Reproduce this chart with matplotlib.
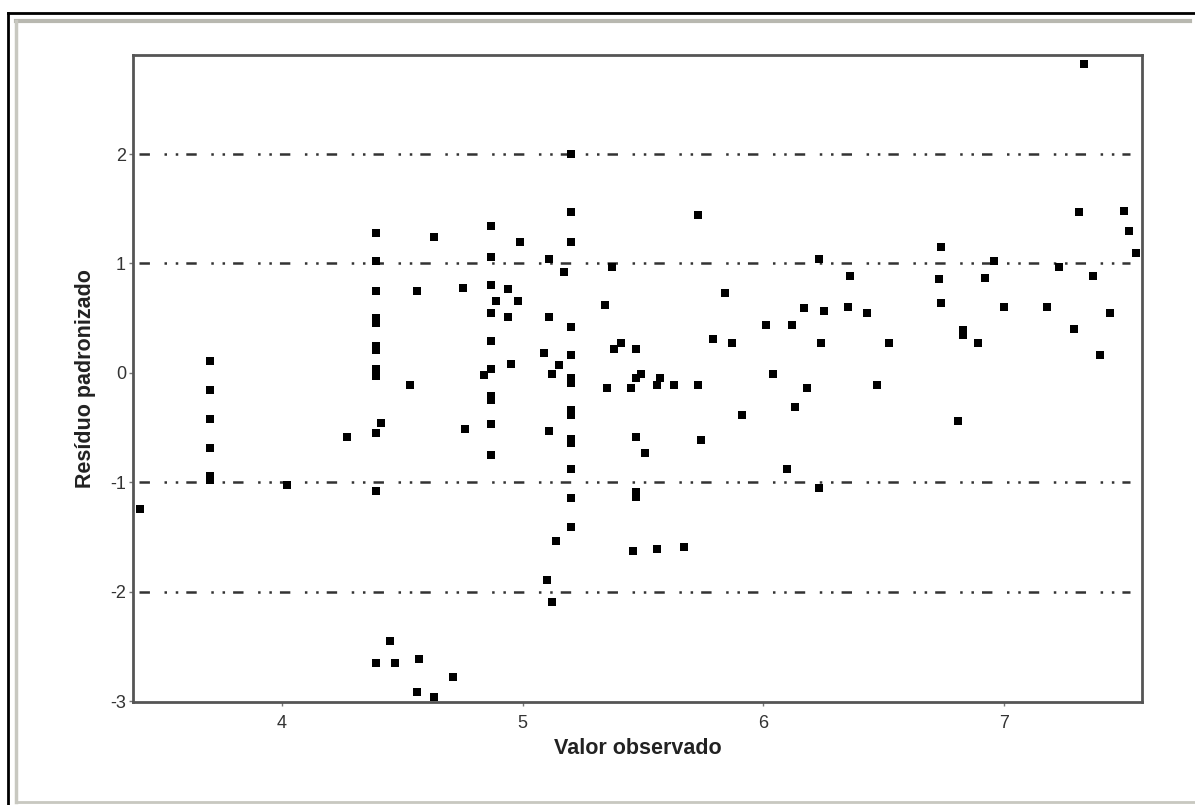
import numpy as np
import matplotlib
matplotlib.use('Agg')
import matplotlib.pyplot as plt
from matplotlib.lines import Line2D

# observed value vs standardized residual
valor_obs = [3.41, 3.70, 3.70, 3.70, 3.70, 3.70, 3.70, 4.02, 4.27,
             4.39, 4.39, 4.39, 4.39, 4.39, 4.39, 4.39, 4.39, 4.39, 4.39, 4.39, 4.41, 4.39,
             4.45, 4.39, 4.47, 4.57, 4.71, 4.56, 4.63, 4.53, 4.56, 4.63, 4.75, 4.76, 4.84,
             4.87, 4.87, 4.87, 4.87, 4.87, 4.87, 4.87, 4.87, 4.87, 4.87,
             4.89, 4.94, 4.94, 4.95, 4.98, 4.99, 5.09, 5.10, 5.11, 5.11, 5.11, 5.12, 5.12,
             5.14, 5.15, 5.17,
             5.20, 5.20, 5.20, 5.20, 5.20, 5.20, 5.20, 5.20, 5.20, 5.20, 5.20, 5.20, 5.20, 5.20,
             5.34, 5.35, 5.37, 5.38, 5.41, 5.45, 5.46, 5.47, 5.47, 5.49, 5.47, 5.47, 5.47,
             5.51, 5.56, 5.57, 5.56, 5.63, 5.67, 5.73, 5.73, 5.74, 5.79, 5.84, 5.87, 5.91,
             6.01, 6.04, 6.10, 6.12, 6.13, 6.17, 6.18, 6.23, 6.23, 6.24, 6.25, 6.35, 6.36,
             6.43, 6.47, 6.52, 6.73, 6.74, 6.74, 6.81, 6.83, 6.83, 6.89, 6.92, 6.96, 7.00,
             7.18, 7.23, 7.29, 7.31, 7.33, 7.37, 7.40, 7.44, 7.50, 7.52, 7.55]
residuo = [-1.24, 0.11, -0.16, -0.42, -0.69, -0.94, -0.98, -1.02, -0.59,
           1.28, 1.02, 0.75, 0.50, 0.46, 0.25, 0.21, 0.04, 0.00, -0.03, -0.55, -0.46, -1.08,
           -2.45, -2.65, -2.65, -2.61, -2.78, -2.92, -2.96, -0.11, 0.75, 1.24, 0.78, -0.51, -0.02,
           1.34, 1.06, 0.80, 0.55, 0.29, 0.04, -0.21, -0.25, -0.47, -0.75,
           0.66, 0.77, 0.51, 0.08, 0.66, 1.20, 0.18, -1.89, 1.04, 0.51, -0.53, -0.01, -2.09,
           -1.54, 0.07, 0.92,
           2.00, 1.47, 1.20, 0.42, 0.16, -0.05, -0.09, -0.34, -0.38, -0.60, -0.64, -0.88, -1.14, -1.41,
           0.62, -0.14, 0.97, 0.22, 0.27, -0.14, -1.63, 0.22, -0.05, -0.01, -0.59, -1.09, -1.13,
           -0.73, -0.11, -0.05, -1.61, -0.11, -1.59, 1.44, -0.11, -0.61, 0.31, 0.73, 0.27, -0.38,
           0.44, -0.01, -0.88, 0.44, -0.31, 0.59, -0.14, 1.04, -1.05, 0.27, 0.57, 0.60, 0.89,
           0.55, -0.11, 0.27, 0.86, 1.15, 0.64, -0.44, 0.39, 0.35, 0.27, 0.87, 1.02, 0.60,
           0.60, 0.97, 0.40, 1.47, 2.82, 0.89, 0.16, 0.55, 1.48, 1.30, 1.10]

ref_lines = [2, 1, -1, -2]
x_ticks = [4, 5, 6, 7]
y_ticks = [-3, -2, -1, 0, 1, 2]

plt.rcParams['font.family'] = ['Liberation Sans', 'DejaVu Sans']
plt.rcParams['lines.scale_dashes'] = False
plt.rcParams['axes.unicode_minus'] = False

fig = plt.figure(figsize=(11.95, 8.05), dpi=100, facecolor='white')
ax = fig.add_axes([133/1195, 1 - 702/805, (1142 - 133)/1195, (702 - 55)/805])

for yv in ref_lines:
    ax.axhline(yv, xmin=0.006, xmax=0.988, color='#333333', linewidth=1.8,
               linestyle=(0, (7.5, 10.5, 1.8, 6.3, 1.8, 5.8)), zorder=1)

ax.plot(valor_obs, residuo, linestyle='none', marker='s', markersize=5.6,
        color='black', markeredgewidth=0, zorder=3)

ax.set_xlim(3.381, 7.573)
ax.set_ylim(-3.007, 2.905)
ax.set_xticks(x_ticks)
ax.set_yticks(y_ticks)
ax.tick_params(axis='both', direction='out', length=3, width=1, color='#777777',
               labelsize=13, labelcolor='#333333')
ax.tick_params(axis='x', pad=6)
ax.tick_params(axis='y', pad=2)

for sp in ax.spines.values():
    sp.set_color('#555555')
    sp.set_linewidth(2.0)

ax.set_xlabel('Valor observado', fontsize=15.5, fontweight='bold', color='#222222', labelpad=5)
ax.set_ylabel('Resíduo padronizado', fontsize=15.5, fontweight='bold', color='#222222', labelpad=10)

# screenshot window frame
W, H = 1195.0, 805.0
fig.add_artist(Line2D([8/W, 1], [1 - 13/H, 1 - 13/H], color='black', linewidth=2, transform=fig.transFigure))
fig.add_artist(Line2D([8/W, 8/W], [0, 1 - 13/H], color='black', linewidth=2, transform=fig.transFigure))
fig.add_artist(Line2D([16/W, 1190/W], [1 - 21/H, 1 - 21/H], color='#b8b8b0', linewidth=3, transform=fig.transFigure))
fig.add_artist(Line2D([16/W, 16/W], [1 - 802/H, 1 - 21/H], color='#c8c8c0', linewidth=2.5, transform=fig.transFigure))
fig.add_artist(Line2D([16/W, 1], [1 - 802/H, 1 - 802/H], color='#c8c8c0', linewidth=2, transform=fig.transFigure))

plt.savefig('out.png', dpi=100, facecolor=fig.get_facecolor())
